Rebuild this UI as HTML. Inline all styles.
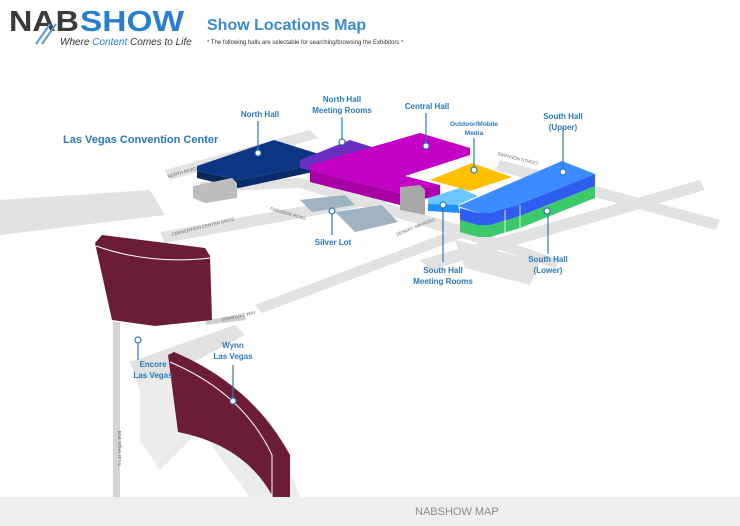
<!DOCTYPE html>
<html><head><meta charset="utf-8"><style>
html,body{margin:0;padding:0;background:#fff;}
body{width:740px;height:526px;position:relative;overflow:hidden;font-family:"Liberation Sans",sans-serif;}
.foot{position:absolute;left:0;top:497px;width:740px;height:29px;background:#efefef;}
.foot span{position:absolute;left:415px;top:9px;font-size:11px;color:#8a8a8a;}
</style></head><body>
<svg width="740" height="526" viewBox="0 0 740 526" xmlns="http://www.w3.org/2000/svg" style="position:absolute;left:0;top:0">
<!-- header -->
<text x="9" y="31" font-size="29" font-weight="bold" fill="#3a3a3a" textLength="70" lengthAdjust="spacingAndGlyphs">NAB</text>
<text x="80" y="31" font-size="29" font-weight="bold" fill="#2a7ed0" textLength="104" lengthAdjust="spacingAndGlyphs">SHOW</text>
<line x1="36" y1="44" x2="50" y2="24" stroke="#5a9ad8" stroke-width="2"/>
<line x1="42" y1="44" x2="56" y2="24" stroke="#5a9ad8" stroke-width="2"/>
<text x="60" y="45" font-size="10" font-style="italic" fill="#333">Where <tspan fill="#2a7ed0">Content</tspan> Comes to Life</text>
<text x="207" y="30" font-size="16" font-weight="bold" fill="#3a8ad0">Show Locations Map</text>
<text x="207" y="44" font-size="6" fill="#333">* The following halls are selectable for searching/browsing the Exhibitors *</text>
<!-- roads -->
<g fill="#e2e2e2">
<polygon points="165,170 310,130 318,138 170,180"/>
<polygon points="160,232 420,185 425,195 165,243"/>
<polygon points="200,182 300,178 460,225 560,260 555,268 450,234 300,188 200,192"/>
<polygon points="255,305 480,220 488,228 262,313"/>
<polygon points="420,260 700,180 705,190 430,270"/>
<polygon points="500,160 720,220 716,230 495,170"/>
<polygon points="455,240 540,262 530,285 465,268"/>
<polygon points="0,200 150,190 165,215 0,235"/>
<polygon points="130,362 235,325 245,335 140,390"/>
</g>
<g fill="#ececec">
<polygon points="140,380 210,370 270,420 300,497 250,497 200,430 160,470 140,440"/>
</g>
<rect x="113" y="322" width="7" height="175" fill="#d5d5d5"/>
<polygon points="205,320 245,315 246,320 206,325" fill="#cfcfcf"/>
<g fill="#9fb3c2"><polygon points="300,200 345,195 355,205 312,212"/><polygon points="335,212 382,205 398,222 355,232"/></g>
<!-- north hall -->
<polygon points="197,166 274,140 322,155 322,163 239,180 197,171" fill="#0c3584"/>
<polygon points="197,171 239,180 239,188 197,178" fill="#072659"/>
<polygon points="239,180 322,163 322,170 239,188" fill="#0a2c6a"/>
<polygon points="193,186 232,178 237,183 237,198 205,203 193,198" fill="#bdbdbd"/>
<!-- purple -->
<polygon points="300,160 350,140 375,148 375,155 315,172 300,168" fill="#6a2fc0"/>
<!-- central -->
<polygon points="310,165 420,133 470,148 470,155 405,176 440,185 400,193 310,170" fill="#c400c4"/>
<polygon points="310,170 400,193 400,205 310,182" fill="#a800a4"/>
<polygon points="400,193 440,185 440,195 400,205" fill="#b000ae"/>
<polygon points="400,187 420,185 425,190 425,215 400,210" fill="#a8a8a8"/>
<!-- orange -->
<polygon points="430,180 472,163 512,177 470,191" fill="#ffc000"/>
<!-- light blue -->
<polygon points="428,198 460,188 478,196 458,205 446,208 428,204" fill="#6ec6ff"/>
<polygon points="428,204 458,205 460,213 428,211" fill="#1e90ff"/>
<!-- south hall -->
<polygon points="460,220 478,225 490,225 520,216 595,186 595,198 520,228 490,237 478,237 460,232" fill="#3cc96a"/>
<polygon points="460,208 478,213 490,213 520,204 595,174 595,186 520,216 490,225 478,225 460,220" fill="#2f5df0"/>
<polygon points="458,206 562,161 595,174 520,204 490,213 478,213" fill="#3b8cff"/>
<g stroke="#fff" stroke-width="0.8"><line x1="505" y1="210" x2="505" y2="232"/><line x1="520" y1="205" x2="520" y2="228"/></g>
<!-- maroon -->
<polygon points="95,243 102,235 205,248 210,256 212,320 155,326 112,320" fill="#6b1d38"/>
<path d="M96,246 Q150,265 210,258" stroke="#fff" stroke-width="1" fill="none"/>
<path d="M168,355 L174,352 Q252,385 290,455 L290,497 L273,497 Q245,445 178,432 Z" fill="#6b1d38"/>
<path d="M170,362 Q243,393 272,455 L272,497" stroke="#fff" stroke-width="1" fill="none"/>
<!-- pins & leaders -->
<g stroke="#2a7ab8" stroke-width="1.2" fill="#fff">
<line x1="258" y1="121" x2="258" y2="152"/><circle cx="258" cy="153" r="3"/>
<line x1="342" y1="117" x2="342" y2="141"/><circle cx="342" cy="142" r="3"/>
<line x1="426" y1="113" x2="426" y2="145"/><circle cx="426" cy="146" r="3"/>
<line x1="474" y1="138" x2="474" y2="169"/><circle cx="474" cy="170" r="3"/>
<line x1="563" y1="127" x2="563" y2="171"/><circle cx="563" cy="172" r="3"/>
<line x1="548" y1="213" x2="548" y2="254"/><circle cx="547" cy="211" r="3"/>
<line x1="443" y1="207" x2="443" y2="262"/><circle cx="443" cy="205" r="3"/>
<line x1="332" y1="213" x2="332" y2="235"/><circle cx="332" cy="211" r="3"/>
<line x1="138" y1="343" x2="138" y2="360"/><circle cx="138" cy="340" r="3"/>
<line x1="233" y1="365" x2="233" y2="400"/><circle cx="233" cy="401" r="3"/>
</g>
<!-- labels -->
<g fill="#2a7ab8" font-size="8" font-weight="bold" text-anchor="middle">
<text x="63" y="143" font-size="11" text-anchor="start">Las Vegas Convention Center</text>
<text x="260" y="117">North Hall</text>
<text x="342" y="102">North Hall</text><text x="342" y="113">Meeting Rooms</text>
<text x="427" y="109">Central Hall</text>
<text x="474" y="126" font-size="6.5">Outdoor/Mobile</text><text x="474" y="135" font-size="6.5">Media</text>
<text x="563" y="119">South Hall</text><text x="563" y="130">(Upper)</text>
<text x="548" y="262">South Hall</text><text x="548" y="273">(Lower)</text>
<text x="443" y="273">South Hall</text><text x="443" y="284">Meeting Rooms</text>
<text x="333" y="245">Silver Lot</text>
<text x="153" y="367">Encore</text><text x="153" y="378">Las Vegas</text>
<text x="233" y="348">Wynn</text><text x="233" y="359">Las Vegas</text>
</g>
<g fill="#666" font-size="4.5">
<text x="168" y="178" transform="rotate(-16 168 178)">NORTH ROAD</text>
<text x="172" y="236" transform="rotate(-14 172 236)">CONVENTION CENTER DRIVE</text>
<text x="270" y="210" transform="rotate(16 270 210)">PARADISE ROAD</text>
<text x="397" y="236" transform="rotate(-22 397 236)">DESERT INN ROAD</text>
<text x="497" y="155" transform="rotate(14 497 155)">SWENSON STREET</text>
<text x="222" y="321" transform="rotate(-12 222 321)">STARDUST WAY</text>
<text x="121" y="466" transform="rotate(-90 121 466)">S Las Vegas Blvd</text>
</g>
</svg>
<div class="foot"><span>NABSHOW MAP</span></div>
</body></html>
